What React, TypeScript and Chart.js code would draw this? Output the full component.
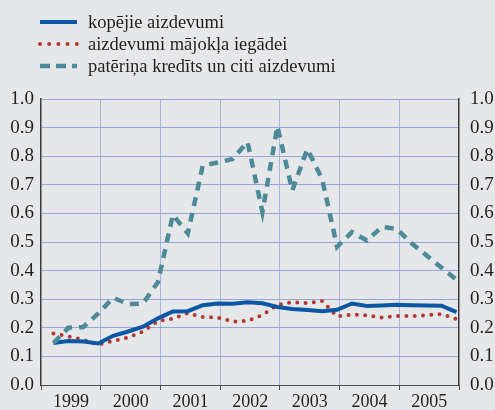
import React, { useEffect, useRef } from "react";
import { Chart, registerables } from "chart.js";

Chart.register(...registerables);

// ---- data (quarterly values, 1999Q1 .. 2005Q4) ----
const years = ["1999", "2000", "2001", "2002", "2003", "2004", "2005"];
const seriesLabels = [
  "kopējie aizdevumi",
  "aizdevumi mājokļa iegādei",
  "patēriņa kredīts un citi aizdevumi",
];
const totalLoans = [
  0.147, 0.154, 0.152, 0.145, 0.172, 0.187, 0.204, 0.233, 0.257, 0.258, 0.279, 0.285, 0.284, 0.289,
  0.286, 0.273, 0.266, 0.262, 0.258, 0.263, 0.285, 0.276, 0.278, 0.281, 0.279, 0.278, 0.277, 0.255,
];
const housingLoans = [
  0.18, 0.17, 0.158, 0.141, 0.154, 0.166, 0.187, 0.224, 0.232, 0.251, 0.238, 0.236, 0.222, 0.224,
  0.245, 0.28, 0.29, 0.286, 0.294, 0.24, 0.246, 0.244, 0.236, 0.241, 0.241, 0.244, 0.248, 0.23,
];
const consumerLoans = [
  0.147, 0.2, 0.203, 0.25, 0.305, 0.283, 0.285, 0.36, 0.595, 0.53, 0.767, 0.778, 0.79, 0.85,
  0.605, 0.905, 0.68, 0.825, 0.72, 0.483, 0.535, 0.505, 0.553, 0.546, 0.495, 0.453, 0.41, 0.368,
];

const FONT = '"Liberation Serif", "Times New Roman", serif';
const TEXT = "#231f20";
const BG = "#e6e7e9";

// x is measured in months from Jan 1999; quarter q sits at the middle of its last month
const toPoints = (vals: number[]) => vals.map((v, i) => ({ x: (i + 1) * 3 - 0.5, y: v }));

const stackedLegend = {
  id: "stackedLegend",
  afterDraw(chart: any) {
    const ctx = chart.ctx;
    ctx.save();
    chart.data.datasets.forEach((ds: any, i: number) => {
      const y = 22 + i * 22;
      ctx.beginPath();
      ctx.strokeStyle = ds.borderColor;
      ctx.lineWidth = ds.borderWidth;
      ctx.lineCap = ds.borderCapStyle || "butt";
      ctx.setLineDash(ds.legendDash || []);
      ctx.moveTo(40, y);
      ctx.lineTo(77, y);
      ctx.stroke();
      ctx.setLineDash([]);
      ctx.fillStyle = TEXT;
      ctx.font = `18.5px ${FONT}`;
      ctx.textBaseline = "middle";
      ctx.textAlign = "left";
      ctx.fillText(ds.label, 88, y + 1);
    });
    ctx.restore();
  },
};

export default function App() {
  const ref = useRef<HTMLCanvasElement | null>(null);

  useEffect(() => {
    if (!ref.current) return;
    const chart = new Chart(ref.current, {
      type: "line",
      data: {
        datasets: [
          {
            label: seriesLabels[0],
            data: toPoints(totalLoans),
            borderColor: "#0b57a4",
            borderWidth: 4,
            pointRadius: 0,
            tension: 0,
            order: 1,
            legendDash: [],
          } as any,
          {
            label: seriesLabels[1],
            data: toPoints(housingLoans),
            borderColor: "#b3382f",
            borderWidth: 4,
            borderDash: [0, 8.3],
            borderCapStyle: "round",
            pointRadius: 0,
            tension: 0,
            order: 2,
            legendDash: [0, 9.2],
          } as any,
          {
            label: seriesLabels[2],
            data: toPoints(consumerLoans),
            borderColor: "#4c8a9a",
            borderWidth: 4.5,
            borderDash: [9, 7],
            pointRadius: 0,
            tension: 0,
            order: 0,
            legendDash: [10, 6],
          } as any,
        ],
      },
      options: {
        responsive: false,
        animation: false,
        devicePixelRatio: 1,
        layout: { padding: { top: 99, left: 0, right: 0, bottom: 0 } },
        plugins: { legend: { display: false }, tooltip: { enabled: false } },
        scales: {
          x: {
            type: "linear",
            min: 0,
            max: 84,
            afterFit: (s: any) => {
              s.height = 25;
            },
            ticks: {
              stepSize: 12,
              autoSkip: false,
              maxRotation: 0,
              labelOffset: 30,
              padding: 1,
              color: TEXT,
              font: { family: FONT, size: 18 },
              callback: (v: any) => {
                const idx = Math.round(Number(v) / 12);
                return idx < years.length ? years[idx] : "";
              },
            },
            grid: {
              color: (c: any) =>
                c.tick && (c.tick.value === 0 || c.tick.value === 84) ? "rgba(0,0,0,0)" : "#aab3d8",
              lineWidth: 1,
              drawTicks: true,
              tickLength: 5,
              tickColor: "#4a4a4a",
            },
            border: { display: true, color: "#4a4a4a", width: 1 },
          },
          y: {
            type: "linear",
            position: "left",
            min: 0,
            max: 1,
            afterFit: (s: any) => {
              s.width = 41;
            },
            ticks: {
              stepSize: 0.1,
              padding: 7,
              color: TEXT,
              font: { family: FONT, size: 19 },
              callback: (v: any) => Number(v).toFixed(1),
            },
            grid: {
              color: (c: any) => (c.tick && c.tick.value === 0 ? "rgba(0,0,0,0)" : "#98a5d8"),
              lineWidth: 1,
              drawTicks: false,
            },
            border: { display: true, color: "#3a3a3a", width: 1.5 },
          },
          y2: {
            type: "linear",
            position: "right",
            min: 0,
            max: 1,
            afterFit: (s: any) => {
              s.width = 36;
            },
            ticks: {
              stepSize: 0.1,
              padding: 11,
              color: TEXT,
              font: { family: FONT, size: 19 },
              callback: (v: any) => Number(v).toFixed(1),
            },
            grid: { display: false, drawTicks: false },
            border: { display: true, color: "#3a3a3a", width: 1.5 },
          },
        },
      },
      plugins: [stackedLegend],
    });
    return () => chart.destroy();
  }, []);

  return (
    <div
      style={{
        position: "absolute",
        left: 0,
        top: 0,
        width: 495,
        height: 410,
        background: BG,
      }}
    >
      <canvas ref={ref} width={495} height={410} style={{ display: "block" }} />
    </div>
  );
}
